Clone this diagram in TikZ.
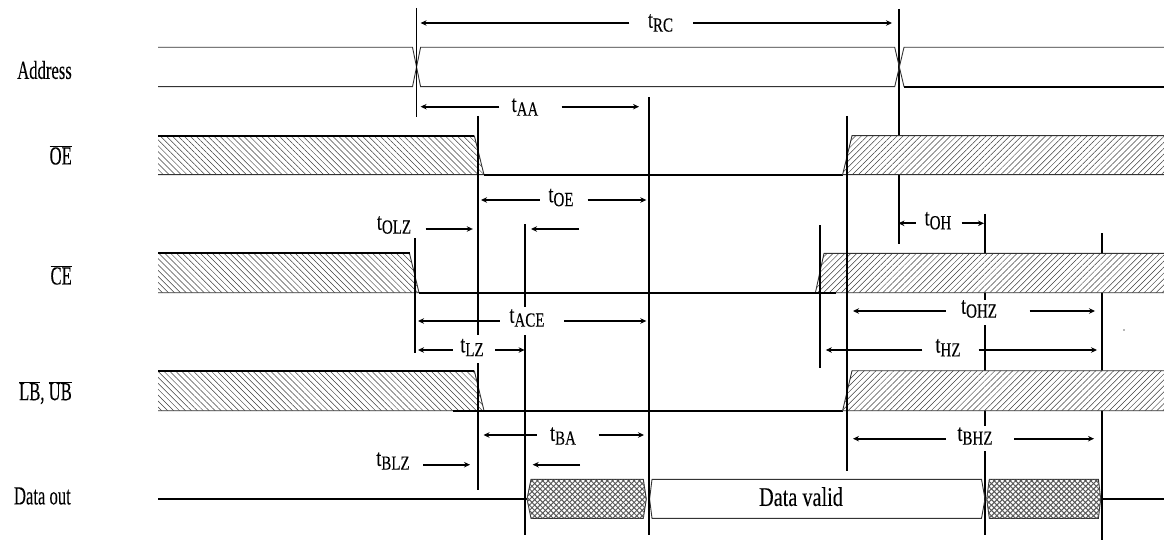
\documentclass[tikz,border=0pt]{standalone}
\usepackage{fontspec}
\setmainfont[FakeStretch=0.75,FakeBold=0.15]{Liberation Serif}
\newfontfamily\sigfont[FakeStretch=0.64,FakeBold=0.15]{Liberation Serif}
\usetikzlibrary{arrows.meta,patterns.meta,calc}
\newcommand{\tm}[1]{t\raisebox{-0.35ex}{\fontsize{20}{21}\selectfont #1}}
\tikzset{
  sigtext/.style={anchor=east,inner sep=0pt,font=\sigfont\fontsize{26}{28}\selectfont},
  tlabel/.style={inner sep=0pt,font=\fontsize{24}{26}\selectfont},
  tickline/.style={line width=1.6pt},
  thinedge/.style={line width=0.9pt,black!80},
  boldedge/.style={line width=2pt},
  dimarrow/.style={line width=1.7pt,-{Stealth[length=6pt,width=5.5pt]}},
  hatchleft/.style={fill=white,postaction={pattern={Lines[angle=-45,distance=4.2pt,line width=0.5pt]},pattern color=black!75}},
  hatchright/.style={fill=white,postaction={pattern={Lines[angle=45,distance=4.2pt,line width=0.5pt]},pattern color=black!75}},
  hatchcross/.style={fill=white,postaction={pattern={Lines[angle=45,distance=3.8pt,line width=1pt]},pattern color=black!65},postaction={pattern={Lines[angle=-45,distance=3.8pt,line width=1pt]},pattern color=black!65}}
}
\begin{document}
\begin{tikzpicture}[x=1pt,y=-1pt]
\useasboundingbox (0,0) rectangle (1164,540);

% ticks behind the hatching
\draw[tickline] (899,9) -- (899,244);
\draw[tickline] (985,214) -- (985,300);
\draw[tickline] (985,325) -- (985,426);
\draw[tickline] (985,451) -- (985,535);
\draw[tickline] (1102,233) -- (1102,540);

% Address
\draw[thinedge] (158,47.3) -- (412.5,47.3) -- (420.6,86.7) -- (894.7,86.7) -- (904,47.3) -- (1164,47.3);
\draw[thinedge] (158,86.7) -- (412.5,86.7) -- (420.6,47.3) -- (894.7,47.3) -- (904,86.7);
\draw[boldedge] (904,86.7) -- (1164,86.7);

% OE
\fill[hatchleft] (158,135.7) -- (474.3,135.7) -- (484,174.7) -- (158,174.7) -- cycle;
\draw[thinedge] (158,174.7) -- (484,174.7) -- (474.3,135.7);
\draw[boldedge] (158,135.7) -- (474.3,135.7);
\draw[boldedge] (484,174.7) -- (842.6,174.7);
\fill[hatchright] (1164,135.7) -- (852,135.7) -- (842.6,174.7) -- (1164,174.7) -- cycle;
\draw[thinedge] (1164,135.7) -- (852,135.7) -- (842.6,174.7) -- (1164,174.7);

% CE
\fill[hatchleft] (158,253.3) -- (409.5,253.3) -- (419,292.7) -- (158,292.7) -- cycle;
\draw[thinedge] (158,292.7) -- (419,292.7) -- (409.5,253.3);
\draw[boldedge] (158,253.3) -- (409.5,253.3);
\fill[hatchright] (1164,253.3) -- (824,253.3) -- (815.4,292.7) -- (1164,292.7) -- cycle;
\draw[thinedge] (1164,253.3) -- (824,253.3) -- (815.4,292.7) -- (1164,292.7);
\draw[boldedge] (419,292.7) -- (836,292.7);

% LB, UB
\fill[hatchleft] (158,370.7) -- (474.3,370.7) -- (484,410.7) -- (158,410.7) -- cycle;
\draw[thinedge] (158,410.7) -- (484,410.7) -- (474.3,370.7);
\draw[boldedge] (158,370.7) -- (474.3,370.7);
\draw[boldedge] (453,410.7) -- (842.6,410.7);
\fill[hatchright] (1164,370.7) -- (852,370.7) -- (842.6,410.7) -- (1164,410.7) -- cycle;
\draw[thinedge] (1164,370.7) -- (852,370.7) -- (842.6,410.7) -- (1164,410.7);

% Data out
\draw[boldedge] (158,499) -- (527,499);
\draw[thinedge,hatchcross] (527,499) -- (531,479.3) -- (643.3,479.3) -- (646.3,499) -- (643.3,518.3) -- (531,518.3) -- cycle;
\draw[thinedge] (649.6,499) -- (652,479.3) -- (981.5,479.3) -- (985,499) -- (981.5,518.3) -- (652,518.3) -- cycle;
\draw[thinedge,hatchcross] (986.7,499) -- (989.3,479.3) -- (1098.4,479.3) -- (1100.7,499) -- (1098.4,518.3) -- (989.3,518.3) -- cycle;
\draw[boldedge] (1102,499) -- (1164,499);

% ticks in front of the hatching
\draw[tickline] (415,238) -- (415,352.7);
\draw[tickline] (416.6,8) -- (416.6,117);
\draw[tickline] (478,116) -- (478,335);
\draw[tickline] (478,363) -- (478,490);
\draw[tickline] (525,224) -- (525,306.7);
\draw[tickline] (525,335) -- (525,535);
\draw[tickline] (649,97.3) -- (649,535);
\draw[tickline] (820,225) -- (820,367.7);
\draw[tickline] (847,116) -- (847,470.7);

% signal names
\node[sigtext] (address) at (72,70) {Address};
\node[sigtext] (oe) at (72,155) {$\overline{\mbox{\sigfont OE}}$};
\node[sigtext] (ce) at (72,275) {$\overline{\mbox{\sigfont CE}}$};
\node[sigtext] (lbub) at (72,392.7) {$\overline{\mbox{\sigfont LB}}$, $\overline{\mbox{\sigfont UB}}$};
\node[sigtext] (dataout) at (71,496) {Data out};
\node[tlabel,font=\fontsize{27}{29}\selectfont] (datavalid) at (801,496.7) {Data valid};

% timing labels
\node[tlabel] (tRC) at (660.5,23) {\tm{RC}};
\node[tlabel] (tAA) at (525,107) {\tm{AA}};
\node[tlabel] (tOE) at (561,197.5) {\tm{OE}};
\node[tlabel] (tOLZ) at (394,225) {\tm{OLZ}};
\node[tlabel] (tOH) at (938,220.7) {\tm{OH}};
\node[tlabel] (tACE) at (527,318) {\tm{ACE}};
\node[tlabel] (tLZ) at (472,347.5) {\tm{LZ}};
\node[tlabel] (tOHZ) at (979,309) {\tm{OHZ}};
\node[tlabel] (tHZ) at (948,347.7) {\tm{HZ}};
\node[tlabel] (tBHZ) at (975,436) {\tm{BHZ}};
\node[tlabel] (tBA) at (563,436) {\tm{BA}};
\node[tlabel] (tBLZ) at (393,461) {\tm{BLZ}};
\node[inner sep=0pt,font=\fontsize{10}{10}\selectfont] (speck) at (1124,330) {.};

\coordinate (rcL) at (420.6,23);
\coordinate (rcR) at (892,23);
\coordinate (aaL) at (420.6,106.7);
\coordinate (aaR) at (639,106.7);
\coordinate (oeL) at (481,200);
\coordinate (oeR) at (646.3,200);
\coordinate (olzR) at (472.8,229);
\coordinate (acsL) at (531,229);
\coordinate (acsT) at (579,229);
\coordinate (ohL) at (898.4,223.3);
\coordinate (ohR) at (984,223.3);
\coordinate (aceL) at (418,321);
\coordinate (aceR) at (646.3,321);
\coordinate (lzL) at (418,350);
\coordinate (lzR) at (524.6,350);
\coordinate (ohzL) at (853,311);
\coordinate (ohzR) at (1095,311);
\coordinate (hzL) at (825.8,350);
\coordinate (hzR) at (1097,350);
\coordinate (bhzL) at (853,438.7);
\coordinate (bhzR) at (1094,438.7);
\coordinate (baL) at (483.5,435);
\coordinate (baR) at (644,435);
\coordinate (blzR) at (470,464.7);
\coordinate (bsL) at (532.7,464.7);
\coordinate (bsT) at (580,464.7);

\draw[dimarrow,shorten <=18.4pt] (tRC.west |- rcL) -- (rcL);
\draw[dimarrow,shorten <=19.9pt] (tRC.east |- rcR) -- (rcR);
\draw[dimarrow,shorten <=12pt] (tAA.west |- aaL) -- (aaL);
\draw[dimarrow,shorten <=23pt] (tAA.east |- aaR) -- (aaR);
\draw[dimarrow,shorten <=8.4pt] (tOE.west |- oeL) -- (oeL);
\draw[dimarrow,shorten <=13.8pt] (tOE.east |- oeR) -- (oeR);
\draw[dimarrow,shorten <=14.3pt] (tOLZ.east |- olzR) -- (olzR);
\draw[dimarrow] (acsT) -- (acsL);
\draw[dimarrow,shorten <=8.5pt] (tOH.west |- ohL) -- (ohL);
\draw[dimarrow,shorten <=10.2pt] (tOH.east |- ohR) -- (ohR);
\draw[dimarrow,shorten <=9.4pt] (tACE.west |- aceL) -- (aceL);
\draw[dimarrow,shorten <=19.4pt] (tACE.east |- aceR) -- (aceR);
\draw[dimarrow,shorten <=7.2pt] (tLZ.west |- lzL) -- (lzL);
\draw[dimarrow,shorten <=11.2pt] (tLZ.east |- lzR) -- (lzR);
\draw[dimarrow,shorten <=15pt] (tOHZ.west |- ohzL) -- (ohzL);
\draw[dimarrow,shorten <=32.5pt] (tOHZ.east |- ohzR) -- (ohzR);
\draw[dimarrow,shorten <=13pt] (tHZ.west |- hzL) -- (hzL);
\draw[dimarrow,shorten <=18pt] (tHZ.east |- hzR) -- (hzR);
\draw[dimarrow,shorten <=11.3pt] (tBHZ.west |- bhzL) -- (bhzL);
\draw[dimarrow,shorten <=21.3pt] (tBHZ.east |- bhzR) -- (bhzR);
\draw[dimarrow,shorten <=13pt] (tBA.west |- baL) -- (baL);
\draw[dimarrow,shorten <=22.6pt] (tBA.east |- baR) -- (baR);
\draw[dimarrow,shorten <=13.2pt] (tBLZ.east |- blzR) -- (blzR);
\draw[dimarrow] (bsT) -- (bsL);
\end{tikzpicture}
\end{document}
